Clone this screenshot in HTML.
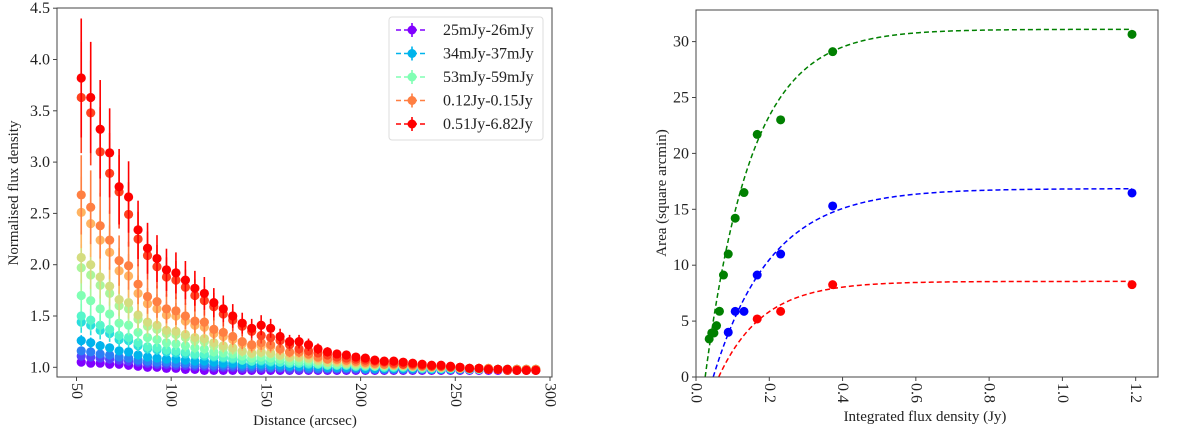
<!DOCTYPE html>
<html><head><meta charset="utf-8"><style>
html,body{margin:0;padding:0;background:#fff;}
svg{display:block;font-family:"Liberation Serif",serif;}
</style></head><body>
<svg id="fig" width="1200" height="430" viewBox="0 0 1200 430"></svg>
<script>
// ---------- Left chart data ----------
const distances = [];
for (let i = 0; i < 49; i++) distances.push(52.5 + 5 * i);
const seriesValues = [
 [1.05,1.04,1.04,1.03,1.03,1.02,1.01,1.00,1.00,0.99,0.99,0.98,0.98,0.97,0.97,0.97,0.97,0.97,0.97,0.97,0.97,0.97,0.97,0.97,0.97,0.97,0.97,0.97,0.97,0.97,0.97,0.97,0.97,0.97,0.97,0.97,0.97,0.97,0.97,0.97,0.97,0.97,0.97,0.97,0.97,0.97,0.97,0.97,0.97],
 [1.11,1.10,1.09,1.08,1.07,1.06,1.05,1.04,1.03,1.03,1.02,1.02,1.01,1.01,1.00,1.00,1.00,0.99,0.99,0.99,0.99,0.99,0.98,0.98,0.98,0.98,0.98,0.98,0.98,0.98,0.98,0.98,0.98,0.98,0.98,0.98,0.98,0.98,0.98,0.98,0.98,0.98,0.98,0.98,0.98,0.98,0.98,0.98,0.98],
 [1.16,1.15,1.13,1.12,1.10,1.09,1.07,1.06,1.05,1.05,1.04,1.04,1.03,1.03,1.02,1.02,1.02,1.01,1.01,1.01,1.00,1.00,1.00,1.00,0.99,0.99,0.99,0.99,0.99,0.99,0.98,0.98,0.98,0.98,0.98,0.98,0.98,0.98,0.98,0.98,0.98,0.98,0.98,0.98,0.98,0.98,0.98,0.98,0.98],
 [1.26,1.24,1.21,1.19,1.16,1.15,1.12,1.10,1.09,1.08,1.08,1.07,1.06,1.06,1.05,1.04,1.04,1.03,1.03,1.03,1.02,1.02,1.01,1.01,1.01,1.01,1.00,1.00,1.00,1.00,0.99,0.99,0.99,0.99,0.99,0.99,0.99,0.98,0.98,0.98,0.98,0.98,0.98,0.98,0.98,0.98,0.98,0.98,0.98],
 [1.44,1.41,1.36,1.33,1.27,1.26,1.21,1.18,1.17,1.15,1.14,1.13,1.12,1.11,1.10,1.09,1.08,1.07,1.06,1.06,1.05,1.05,1.04,1.04,1.03,1.03,1.02,1.02,1.02,1.01,1.01,1.01,1.00,1.00,1.00,1.00,0.99,0.99,0.99,0.99,0.99,0.98,0.98,0.98,0.98,0.98,0.98,0.98,0.98],
 [1.50,1.46,1.41,1.37,1.31,1.29,1.24,1.20,1.19,1.17,1.16,1.15,1.13,1.13,1.11,1.10,1.09,1.07,1.06,1.07,1.06,1.05,1.04,1.04,1.04,1.03,1.02,1.02,1.02,1.01,1.01,1.01,1.00,1.00,1.00,1.00,0.99,0.99,0.99,0.99,0.99,0.98,0.98,0.98,0.98,0.98,0.98,0.98,0.98],
 [1.70,1.65,1.57,1.52,1.43,1.41,1.34,1.29,1.27,1.24,1.23,1.21,1.19,1.18,1.15,1.14,1.13,1.11,1.09,1.10,1.09,1.08,1.06,1.06,1.06,1.04,1.03,1.03,1.03,1.02,1.02,1.01,1.01,1.01,1.01,1.00,1.00,1.00,0.99,0.99,0.99,0.99,0.98,0.98,0.98,0.98,0.98,0.98,0.98],
 [1.97,1.90,1.80,1.72,1.60,1.57,1.47,1.40,1.37,1.33,1.32,1.29,1.26,1.25,1.21,1.19,1.17,1.15,1.13,1.14,1.13,1.11,1.09,1.09,1.08,1.06,1.05,1.05,1.04,1.03,1.03,1.02,1.02,1.02,1.01,1.01,1.00,1.00,1.00,1.00,0.99,0.99,0.99,0.98,0.98,0.98,0.98,0.98,0.98],
 [2.07,2.00,1.88,1.79,1.66,1.63,1.51,1.44,1.41,1.36,1.35,1.32,1.29,1.28,1.24,1.21,1.19,1.16,1.14,1.15,1.14,1.12,1.10,1.10,1.09,1.07,1.05,1.05,1.04,1.04,1.03,1.03,1.02,1.02,1.02,1.01,1.01,1.00,1.00,1.00,0.99,0.99,0.99,0.99,0.98,0.98,0.98,0.98,0.98],
 [2.51,2.40,2.24,2.12,1.94,1.89,1.72,1.62,1.57,1.51,1.50,1.45,1.41,1.39,1.33,1.30,1.27,1.23,1.20,1.21,1.20,1.17,1.14,1.14,1.12,1.09,1.08,1.07,1.06,1.05,1.04,1.03,1.03,1.02,1.02,1.01,1.01,1.00,1.00,1.00,0.99,0.99,0.99,0.98,0.98,0.98,0.98,0.98,0.98],
 [2.68,2.56,2.38,2.24,2.04,1.99,1.81,1.69,1.64,1.57,1.55,1.50,1.45,1.44,1.37,1.34,1.30,1.25,1.22,1.24,1.22,1.18,1.15,1.15,1.13,1.10,1.08,1.08,1.07,1.06,1.05,1.04,1.03,1.03,1.03,1.02,1.01,1.01,1.01,1.00,1.00,0.99,0.99,0.99,0.98,0.98,0.98,0.98,0.98],
 [3.63,3.48,3.10,2.89,2.71,2.49,2.25,2.09,1.98,1.88,1.85,1.78,1.70,1.65,1.59,1.52,1.46,1.40,1.35,1.31,1.29,1.26,1.22,1.18,1.16,1.14,1.12,1.10,1.09,1.08,1.07,1.06,1.05,1.04,1.03,1.03,1.02,1.01,1.01,1.00,1.00,0.99,0.99,0.98,0.98,0.97,0.97,0.97,0.97],
 [3.82,3.63,3.32,3.09,2.76,2.66,2.34,2.16,2.06,1.95,1.92,1.85,1.77,1.72,1.63,1.57,1.50,1.43,1.38,1.41,1.38,1.30,1.25,1.25,1.22,1.18,1.15,1.13,1.12,1.10,1.09,1.07,1.06,1.06,1.05,1.04,1.03,1.02,1.02,1.01,1.00,0.99,0.99,0.98,0.98,0.98,0.97,0.97,0.97]
];
const seriesErrFrac = [0.05,0.1,0.12,0.15,0.2,0.2,0.2,0.22,0.22,0.22,0.22,0.2,0.2];
const legendLabels = ["25mJy-26mJy","34mJy-37mJy","53mJy-59mJy","0.12Jy-0.15Jy","0.51Jy-6.82Jy"];
const legendSeriesIdx = [0,3,6,10,12];
const leftXTicks = [50,100,150,200,250,300];
const leftYTicks = [1.0,1.5,2.0,2.5,3.0,3.5,4.0,4.5];

// ---------- Right chart data ----------
const greenX = [0.036,0.043,0.049,0.056,0.064,0.075,0.088,0.107,0.131,0.167,0.231,0.373,1.19];
const greenY = [3.40,3.94,3.94,4.59,5.88,9.12,11.0,14.2,16.5,21.7,23.0,29.1,30.65];
const blueX = [0.088,0.107,0.131,0.167,0.231,0.373,1.19];
const blueY = [4.0,5.87,5.87,9.12,11.0,15.3,16.46];
const redX = [0.167,0.231,0.373,1.19];
const redY = [5.19,5.87,8.26,8.26];
const fitAmp = [31.1,16.85,8.55];
const fitX0 = [0.025,0.047,0.062];
const fitTau = [0.126,0.157,0.12];
const rightXTicks = [0.0,0.2,0.4,0.6,0.8,1.0,1.2];
const rightYTicks = [0,5,10,15,20,25,30];

const NS = "http://www.w3.org/2000/svg";
const svg = document.getElementById('fig');
function mk(tag, attrs, parent) {
  const e = document.createElementNS(NS, tag);
  for (const k in attrs) e.setAttribute(k, attrs[k]);
  (parent || svg).appendChild(e);
  return e;
}
function rainbow(t) {
  const r = Math.min(1, Math.abs(2 * t - 0.5));
  const g = Math.sin(Math.PI * t);
  const b = Math.cos(Math.PI * t / 2);
  return `rgb(${Math.round(r*255)},${Math.round(g*255)},${Math.round(b*255)})`;
}
const colors = seriesValues.map((_, i) => rainbow(i / (seriesValues.length - 1)));

// ---------- Left chart ----------
const L = {left: 57, right: 552, top: 8, bottom: 377};
const lx = v => 76.5 + (v - 50) * 1.894;
const ly = v => 367.3 - (v - 1.0) * 102.6;

const leftG = mk('g', {});



const clip = mk('clipPath', {id: 'lclip'}, leftG);
mk('rect', {x: L.left, y: L.top, width: L.right - L.left, height: L.bottom - L.top}, clip);
const plotL = mk('g', {'clip-path': 'url(#lclip)'}, leftG);



seriesValues.forEach((vals, s) => {
  const g = mk('g', {fill: colors[s], stroke: colors[s]}, plotL);
  
  
  vals.forEach((v, i) => {
    const x = lx(distances[i]);
    const err = seriesErrFrac[s] * Math.max(0, v - 0.97) + 0.01;
    const eb = mk('line', {x1: x, x2: x, y1: ly(v + err), y2: ly(v - err), 'stroke-width': 1.6}, g);
    
    
    const c = mk('circle', {cx: x, cy: ly(v), r: 4.6, stroke: 'none'}, g);
    
    
  });
});

const lframe = mk('rect', {x: L.left, y: L.top, width: L.right - L.left, height: L.bottom - L.top, fill: 'none', stroke: '#444', 'stroke-width': 1}, leftG);



leftXTicks.forEach(t => {
  const x = lx(t);
  mk('line', {x1: x, x2: x, y1: L.bottom, y2: L.bottom + 4, stroke: '#444'}, leftG);
  const tx = mk('text', {x: 0, y: 0, 'font-size': 16, fill: '#222', 'dominant-baseline': 'central', transform: `translate(${x},${L.bottom + 6}) rotate(90)`}, leftG);
  tx.textContent = String(t);
  
  
});
leftYTicks.forEach(t => {
  const y = ly(t);
  mk('line', {x1: L.left - 4, x2: L.left, y1: y, y2: y, stroke: '#444'}, leftG);
  const tx = mk('text', {x: L.left - 7, y: y + 5, 'font-size': 16, fill: '#222', 'text-anchor': 'end'}, leftG);
  tx.textContent = t.toFixed(1);
  
  
});
let t1 = mk('text', {x: 305, y: 425, 'font-size': 15, 'text-anchor': 'middle', fill: '#222'}, leftG);
t1.textContent = 'Distance (arcsec)';


let t2 = mk('text', {x: 0, y: 0, 'font-size': 15, 'text-anchor': 'middle', fill: '#222', transform: 'translate(18,193) rotate(-90)'}, leftG);
t2.textContent = 'Normalised flux density';



// legend
const leg = mk('g', {}, leftG);


mk('rect', {x: 389, y: 17, width: 154, height: 123, rx: 3, fill: '#fff', 'fill-opacity': 0.85, stroke: '#ddd'}, leg);
legendLabels.forEach((lab, i) => {
  const y = 30 + i * 23.5;
  const c = colors[legendSeriesIdx[i]];
  const e = mk('g', {}, leg);
  
  
  mk('line', {x1: 396, x2: 428, y1: y, y2: y, stroke: c, 'stroke-width': 1.5, 'stroke-dasharray': '5,3'}, e);
  mk('line', {x1: 412, x2: 412, y1: y - 7, y2: y + 7, stroke: c, 'stroke-width': 1.6}, e);
  mk('circle', {cx: 412, cy: y, r: 4.5, fill: c}, e);
  const tx = mk('text', {x: 443, y: y + 5, 'font-size': 16, fill: '#222'}, e);
  tx.textContent = lab;
});

// ---------- Right chart ----------
const R = {left: 696, right: 1158, top: 10, bottom: 377};
const rx = v => 696 + v * 366.4;
const ry = v => 377 - v * 11.18;
const rightG = mk('g', {});


const clip2 = mk('clipPath', {id: 'rclip'}, rightG);
mk('rect', {x: R.left, y: R.top, width: R.right - R.left, height: R.bottom - R.top}, clip2);
const plotR = mk('g', {'clip-path': 'url(#rclip)'}, rightG);

const fitColors = ['green', 'blue', 'red'];
fitAmp.forEach((A, k) => {
  let d = '';
  for (let j = 0; j <= 200; j++) {
    const x = fitX0[k] + (1.19 - fitX0[k]) * j / 200;
    const y = A * (1 - Math.exp(-(x - fitX0[k]) / fitTau[k]));
    d += (j ? 'L' : 'M') + rx(x).toFixed(2) + ',' + ry(y).toFixed(2);
  }
  const p = mk('path', {d, fill: 'none', stroke: fitColors[k], 'stroke-width': 1.5, 'stroke-dasharray': '5,3'}, plotR);
  
  
});
[[greenX, greenY, 'green'], [blueX, blueY, 'blue'], [redX, redY, 'red']].forEach(([xs, ys, c]) => {
  xs.forEach((x, i) => {
    const pt = mk('circle', {cx: rx(x), cy: ry(ys[i]), r: 4.5, fill: c}, plotR);
    
    
  });
});
const rframe = mk('rect', {x: R.left, y: R.top, width: R.right - R.left, height: R.bottom - R.top, fill: 'none', stroke: '#444', 'stroke-width': 1}, rightG);


rightXTicks.forEach(t => {
  const x = rx(t);
  mk('line', {x1: x, x2: x, y1: R.bottom, y2: R.bottom + 4, stroke: '#444'}, rightG);
  const tx = mk('text', {x: 0, y: 0, 'font-size': 16, fill: '#222', 'dominant-baseline': 'central', transform: `translate(${x},${R.bottom + 6}) rotate(90)`}, rightG);
  tx.textContent = t.toFixed(1);
  
  
});
rightYTicks.forEach(t => {
  const y = ry(t);
  mk('line', {x1: R.left - 4, x2: R.left, y1: y, y2: y, stroke: '#444'}, rightG);
  const tx = mk('text', {x: R.left - 7, y: y + 5, 'font-size': 16, fill: '#222', 'text-anchor': 'end'}, rightG);
  tx.textContent = String(t);
  
  
});
let t3 = mk('text', {x: 925, y: 421, 'font-size': 15, 'text-anchor': 'middle', fill: '#222'}, rightG);
t3.textContent = 'Integrated flux density (Jy)';


let t4 = mk('text', {x: 0, y: 0, 'font-size': 15, 'text-anchor': 'middle', fill: '#222', transform: 'translate(666,193) rotate(-90)'}, rightG);
t4.textContent = 'Area (square arcmin)';


</script>
</body></html>
